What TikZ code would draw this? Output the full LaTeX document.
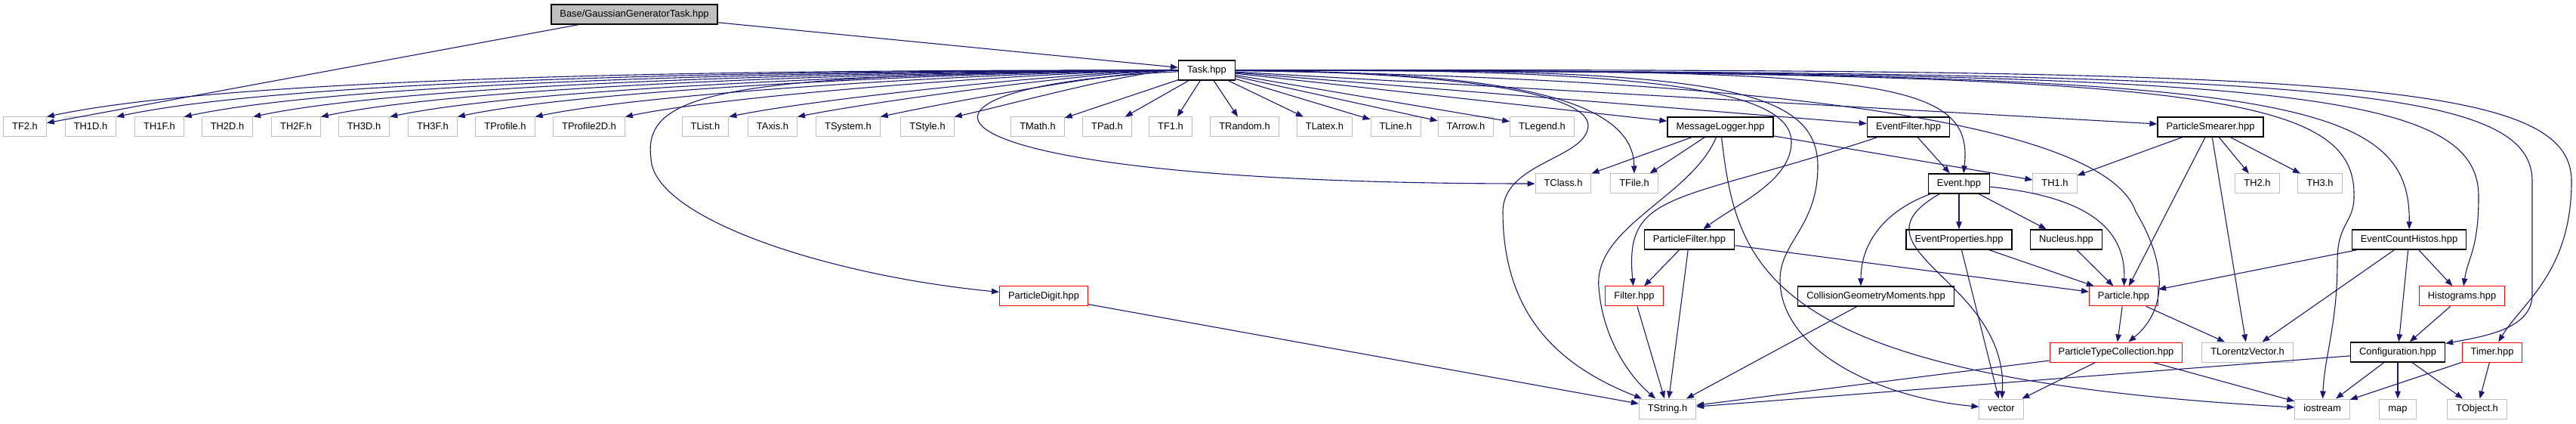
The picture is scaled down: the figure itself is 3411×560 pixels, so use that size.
\documentclass[tikz,border=0pt]{standalone}
\usepackage{fontspec}
\setmainfont{Liberation Sans}
\usepackage{tikz}
\usetikzlibrary{arrows.meta}
\definecolor{edgec}{HTML}{191970}
\definecolor{extc}{HTML}{BFBFBF}

\begin{document}
\begin{tikzpicture}[x=1pt, y=1pt, font=\fontsize{12.9}{15}\selectfont,
  filebox/.style={draw, minimum height=26pt, inner xsep=11.5pt, inner ysep=0pt, text height=9.5pt, text depth=2.5pt, line width=1pt},
  ext/.style={filebox, draw=extc},
  doc/.style={filebox, draw=black, line width=1.4pt},
  trunc/.style={filebox, draw=red},
  mainfile/.style={doc, fill=extc},
  dep/.style={draw=edgec, line width=1.1pt, -{Triangle[length=10pt, width=7.5pt]}}]
  \useasboundingbox (0,0) rectangle (3411,560);

  \node[mainfile] (gauss) at (840,541) {Base/GaussianGeneratorTask.hpp};
  \node[doc] (task) at (1598,467) {Task.hpp};

  \foreach \n/\x/\t in {tf2/33/TF2.h, th1d/120/TH1D.h, th1f/211/TH1F.h, th2d/301/TH2D.h, th2f/392/TH2F.h,
      th3d/482/TH3D.h, th3f/573/TH3F.h, tprof/669/TProfile.h, tprofb/780/TProfile2D.h, tlist/934/TList.h,
      taxis/1023/TAxis.h, tsystem/1123/TSystem.h, tstyle/1228/TStyle.h, tmath/1374/TMath.h, tpad/1466/TPad.h,
      tf1/1550/TF1.h, trandom/1648/TRandom.h, tlatex/1754/TLatex.h, tline/1848/TLine.h, tarrow/1941/TArrow.h,
      tlegend/2042/TLegend.h}{
    \node[ext] (\n) at (\x,392) {\t};
  }
  \node[doc] (mlog) at (2278,392) {MessageLogger.hpp};
  \node[doc] (efilter) at (2527,392) {EventFilter.hpp};
  \node[doc] (psmear) at (2927,392) {ParticleSmearer.hpp};

  \node[ext] (tclass) at (2070,317) {TClass.h};
  \node[ext] (tfile) at (2164,317) {TFile.h};
  \node[doc] (event) at (2594,317) {Event.hpp};
  \foreach \n/\x/\t in {th1/2721/TH1.h, th2/2989/TH2.h, th3/3072/TH3.h}{
    \node[ext] (\n) at (\x,317) {\t};
  }

  \node[doc] (pfilter) at (2237,243) {ParticleFilter.hpp};
  \node[doc] (evprop) at (2594,243) {EventProperties.hpp};
  \node[doc] (nucleus) at (2736,243) {Nucleus.hpp};
  \node[doc] (evcount) at (3190,243) {EventCountHistos.hpp};

  \node[trunc] (pdigit) at (1382,168) {ParticleDigit.hpp};
  \node[trunc] (filter) at (2164,168) {Filter.hpp};
  \node[doc] (cgm) at (2484,168) {CollisionGeometryMoments.hpp};
  \node[trunc] (particle) at (2812,168) {Particle.hpp};
  \node[trunc] (histos) at (3260,168) {Histograms.hpp};

  \node[trunc] (ptcoll) at (2802,94) {ParticleTypeCollection.hpp};
  \node[ext] (tlorentz) at (2976,94) {TLorentzVector.h};
  \node[doc] (config) at (3175,94) {Configuration.hpp};
  \node[trunc] (timer) at (3300,94) {Timer.hpp};

  \foreach \n/\x/\t in {tstring/2208/TString.h, vector/2650/vector, iostream/3075/iostream, map/3175/map, tobject/3280/TObject.h}{
    \node[ext] (\n) at (\x,19) {\t};
  }

  \draw[dep] (gauss) -- (tf2);
  \draw[dep] (gauss) -- (task);

  \foreach \n/\a/\b/\c in {tf2/1261/361/469, th1d/1280/436/465, th1f/1297/507/461, th2d/1316/580/457,
      th2f/1334/651/453, th3d/1352/726/449, th3f/1370/796/446, tprof/1390/879/441, tprofb/1414/974/436,
      tlist/1442/1084/430, taxis/1460/1158/426, tsystem/1481/1242/422, tstyle/1501/1323/418}
    \draw[dep] (task.west) .. controls (\a,467) and (\b,\c) .. (\n.north east);
  \foreach \n in {tmath,tpad,tf1,trandom,tlatex,tline,tarrow,tlegend,mlog,efilter,psmear}
    \draw[dep] (task) -- (\n);
  \draw[dep] (task) .. controls (1130,445) and (1180,317) .. (tclass);
  \draw[dep] (task) .. controls (960,462) and (850,440) .. (862,350) .. controls (866,270) and (1100,195) .. (pdigit);
  \draw[dep] (task) .. controls (1950,465) and (2163,440) .. (tfile);
  \draw[dep] (task) .. controls (1900,465) and (2105,440) .. (2103,393) .. controls (2100,350) and (1990,345) .. (1990,280) .. controls (1990,130) and (2080,70) .. (tstring);
  \draw[dep] (task) .. controls (2200,470) and (2375,440) .. (2372,370) .. controls (2370,320) and (2300,290) .. (pfilter);
  \draw[dep] (task) .. controls (2250,470) and (2407,450) .. (2407,340) .. controls (2407,260) and (2357,240) .. (2357,190) .. controls (2357,100) and (2480,35) .. (vector);
  \draw[dep] (task) .. controls (2480,468) and (2615,460) .. ([xshift=6pt]event.north);
  \draw[dep] (task) .. controls (2400,455) and (2790,390) .. (2828,280) .. controls (2870,210) and (2870,150) .. (ptcoll);
  \draw[dep] (task) .. controls (2900,465) and (3120,440) .. (3117,300) .. controls (3117,265) and (3095,265) .. (3095,215) .. controls (3095,130) and (3078,90) .. (iostream);
  \draw[dep] (task) .. controls (3000,465) and (3192,440) .. (evcount);
  \draw[dep] (task) .. controls (3000,465) and (3282,445) .. (3282,300) .. controls (3282,230) and (3268,220) .. (histos);
  \draw[dep] (task) .. controls (3050,465) and (3353,450) .. (3353,320) -- (3353,170) .. controls (3353,125) and (3290,115) .. (config);
  \draw[dep] (task) .. controls (3100,470) and (3405,455) .. (3405,320) .. controls (3405,200) and (3340,160) .. (timer);

  \foreach \n in {tclass,tfile,th1}
    \draw[dep] (mlog) -- (\n);
  \draw[dep] (mlog) .. controls (2240,300) and (2110,260) .. (2117,180) .. controls (2122,110) and (2160,60) .. (tstring);
  \draw[dep] (mlog) .. controls (2300,200) and (2340,60) .. (iostream);

  \draw[dep] (efilter) -- (event);
  \draw[dep] (efilter) .. controls (2220,290) and (2150,310) .. (filter);

  \foreach \n in {th1,th2,th3,particle,tlorentz}
    \draw[dep] (psmear) -- (\n);

  \foreach \n in {filter,tstring,particle}
    \draw[dep] (pfilter) -- (\n);

  \foreach \n in {evprop,nucleus}
    \draw[dep] (event) -- (\n);
  \draw[dep] (event) .. controls (2500,283) and (2464,242) .. ([xshift=-20pt]cgm.north);
  \draw[dep] ([xshift=-26pt]event.south) .. controls (2440,230) and (2660,190) .. (vector);
  \draw[dep] (event) .. controls (2760,300) and (2815,260) .. (particle);

  \foreach \n in {particle,vector}
    \draw[dep] (evprop) -- (\n);
  \draw[dep] (nucleus) -- (particle);
  \draw[dep] (cgm) -- (tstring);
  \draw[dep] (filter) -- (tstring);
  \draw[dep] (pdigit) -- (tstring);

  \foreach \n in {ptcoll,tlorentz}
    \draw[dep] (particle) -- (\n);
  \foreach \n in {tstring,vector,iostream}
    \draw[dep] (ptcoll) -- (\n);
  \foreach \n in {particle,tlorentz,histos,config}
    \draw[dep] (evcount) -- (\n);
  \draw[dep] (histos) -- (config);
  \foreach \n in {tstring,iostream,map,tobject}
    \draw[dep] (config) -- (\n);
  \foreach \n in {iostream,tobject}
    \draw[dep] (timer) -- (\n);
\end{tikzpicture}
\end{document}
